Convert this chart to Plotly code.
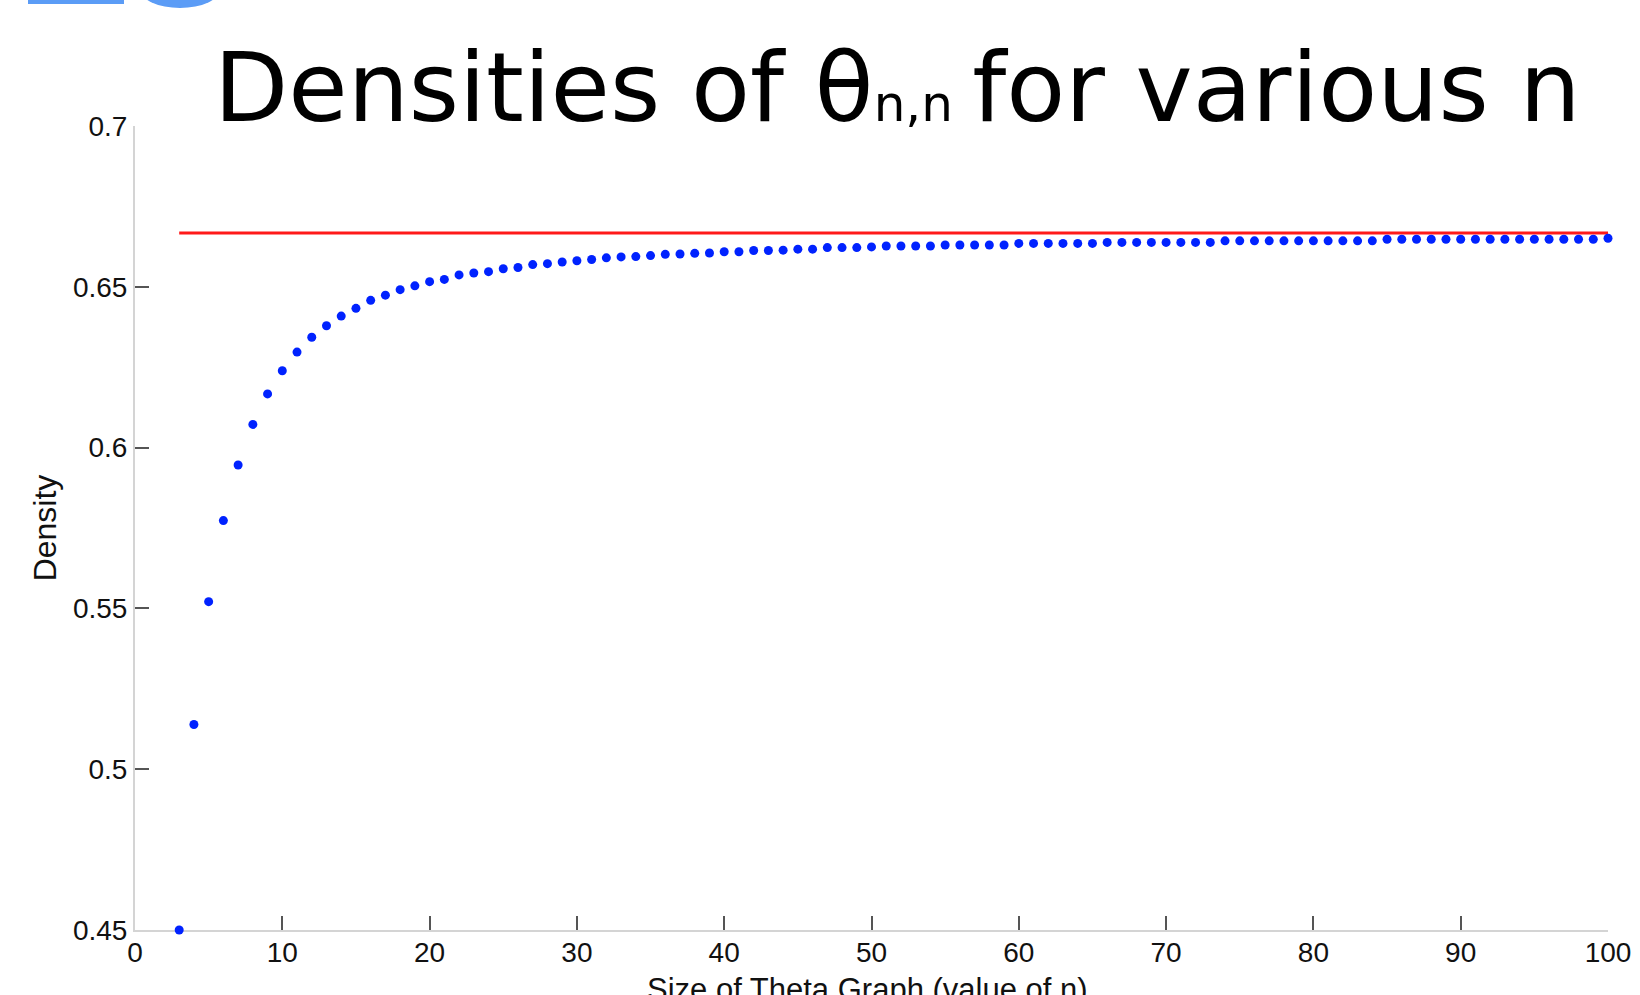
import plotly.graph_objects as go

# Size of theta graph (n) and density
n_values = list(range(3, 101))
density = [
    0.4500, 0.5139, 0.5521, 0.5773, 0.5946, 0.6072, 0.6167, 0.6239, 0.6297, 0.6343,   # n=3..12
    0.6379, 0.6409, 0.6433, 0.6458, 0.6474, 0.6491, 0.6503, 0.6516, 0.6523, 0.6537,   # n=13..22
    0.6543, 0.6547, 0.6556, 0.6560, 0.6569, 0.6572, 0.6577, 0.6581, 0.6585, 0.6590,   # n=23..32
    0.6593, 0.6594, 0.6597, 0.6601, 0.6602, 0.6604, 0.6605, 0.6609, 0.6609, 0.6613,   # n=33..42
    0.6613, 0.6614, 0.6617, 0.6617, 0.6622, 0.6622, 0.6622, 0.6624, 0.6627, 0.6627,   # n=43..52
    0.6627, 0.6627, 0.6630, 0.6630, 0.6630, 0.6630, 0.6630, 0.6635, 0.6635, 0.6635,   # n=53..62
    0.6635, 0.6635, 0.6635, 0.6638, 0.6638, 0.6638, 0.6638, 0.6638, 0.6638, 0.6638,   # n=63..72
    0.6638, 0.6643, 0.6643, 0.6643, 0.6643, 0.6643, 0.6643, 0.6643, 0.6643, 0.6643,   # n=73..82
    0.6643, 0.6643, 0.6648, 0.6648, 0.6648, 0.6648, 0.6648, 0.6648, 0.6648, 0.6648,   # n=83..92
    0.6648, 0.6648, 0.6648, 0.6648, 0.6648, 0.6648, 0.6648, 0.6651,                   # n=93..100
]
limit_x = [3, 100]
limit_y = [0.6667, 0.6667]

x_ticks = [0, 10, 20, 30, 40, 50, 60, 70, 80, 90, 100]
y_ticks = [0.45, 0.5, 0.55, 0.6, 0.65, 0.7]
y_tick_labels = ["0.45", "0.5", "0.55", "0.6", "0.65", "0.7"]

title_text = "Densities of θ<span style='font-size:50px'>n,n</span>\u2009for various n"
x_title = "Size of Theta Graph (value of n)"
y_title = "Density"

W, H = 1640, 995
L, R, T, B = 135, 32, 126, 65
pw, ph = W - L - R, H - T - B

def px(x):
    return (x - L) / pw

def py(y):
    return (H - B - y) / ph

fig = go.Figure()
fig.add_trace(go.Scatter(
    x=limit_x, y=limit_y, mode="lines",
    line=dict(color="#ff1a1a", width=3),
    showlegend=False, hoverinfo="skip",
))
fig.add_trace(go.Scatter(
    x=n_values, y=density, mode="markers",
    marker=dict(color="#0022ff", size=9),
    cliponaxis=False, showlegend=False,
))

tick_font = dict(family="Liberation Sans, Arial, sans-serif", size=28, color="#111111")

fig.update_layout(
    width=W, height=H,
    margin=dict(l=L, r=R, t=T, b=B, autoexpand=False),
    paper_bgcolor="white", plot_bgcolor="white",
    showlegend=False,
    xaxis=dict(
        range=[0, 100], tickvals=x_ticks, ticktext=[str(v) for v in x_ticks],
        ticks="inside", ticklen=14, tickwidth=2, tickcolor="#555555",
        showline=True, linecolor="#d4d4d4", linewidth=2,
        showgrid=False, zeroline=False, tickfont=tick_font, automargin=False,
        ticklabelstandoff=-4,
        layer="below traces",
    ),
    yaxis=dict(
        range=[0.45, 0.7], tickvals=y_ticks, ticktext=y_tick_labels,
        ticks="inside", ticklen=14, tickwidth=2, tickcolor="#555555",
        showline=True, linecolor="#d4d4d4", linewidth=2,
        showgrid=False, zeroline=False, tickfont=tick_font, automargin=False,
        title=dict(text=y_title, font=dict(family="Liberation Sans, Arial, sans-serif", size=32, color="#111111"), standoff=7),
        layer="below traces",
    ),
    shapes=[
        dict(type="rect", xref="paper", yref="paper", x0=px(28), x1=px(124), y0=py(4), y1=py(-2),
             fillcolor="#5b9cf6", line=dict(width=0), layer="above"),
        dict(type="circle", xref="paper", yref="paper", x0=px(140), x1=px(220), y0=py(8), y1=py(-30),
             fillcolor="#5b9cf6", line=dict(width=0), layer="above"),
    ],
)

fig.add_annotation(
    text=title_text, xref="paper", yref="paper",
    x=px(212), y=py(87), xanchor="left", yanchor="middle",
    showarrow=False,
    font=dict(family="DejaVu Sans, Verdana, sans-serif", size=96.5, color="black"),
)

# x-axis title, placed below the tick labels (partly cut by the bottom edge as in the reference)
fig.add_annotation(
    text=x_title, xref="paper", yref="paper",
    x=px(867), y=py(970), xanchor="center", yanchor="top",
    showarrow=False,
    font=dict(family="Liberation Sans, Arial, sans-serif", size=31, color="#111111"),
)

fig.write_html(
    "out.html",
    config={"displayModeBar": False},
    post_script="document.body.style.margin='0';document.body.style.overflow='hidden';",
)
